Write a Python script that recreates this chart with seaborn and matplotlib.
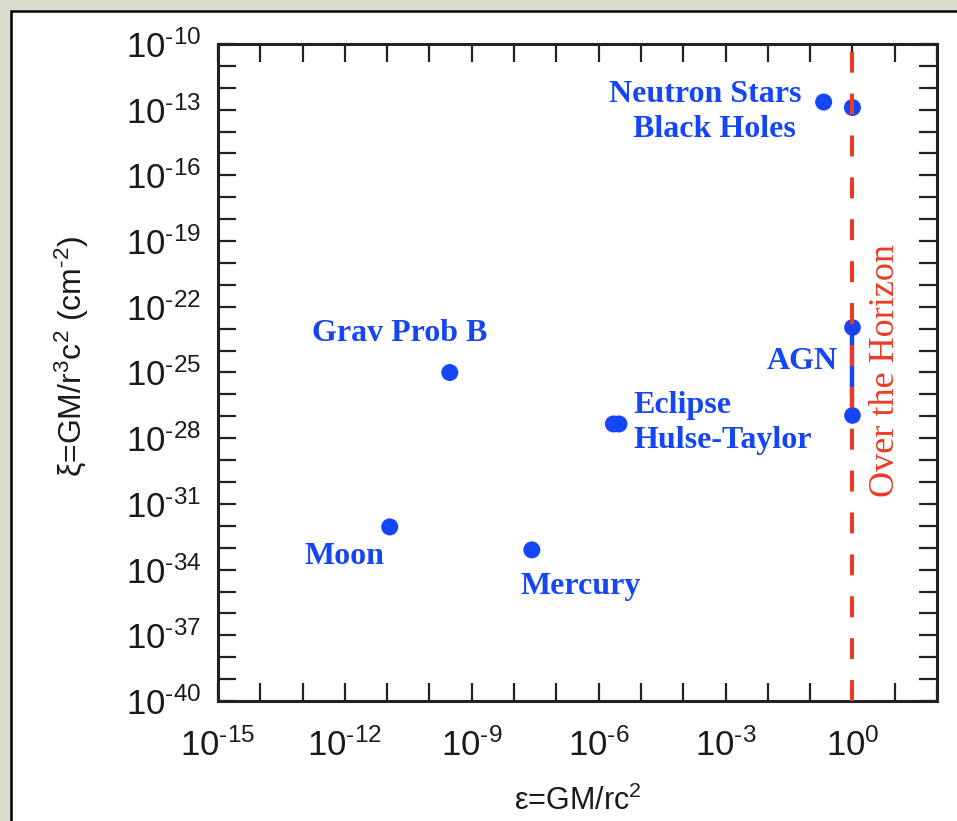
import numpy as np
import pandas as pd
import matplotlib
matplotlib.use("Agg")
import matplotlib.pyplot as plt
from matplotlib.patches import Rectangle
from matplotlib.ticker import FixedLocator, FixedFormatter, NullFormatter
import seaborn as sns

# Tests of gravity: potential (epsilon) vs curvature (xi)
names = ["Moon", "Grav Prob B", "Mercury", "Eclipse", "Hulse-Taylor",
         "Neutron Stars", "Black Holes"]
eps = [10**-10.94, 10**-9.52, 10**-7.58, 10**-5.65, 10**-5.52,
       10**-0.68, 10**0.0]
xi = [10**-32.05, 10**-25.0, 10**-33.1, 10**-27.35, 10**-27.35,
      10**-12.65, 10**-12.9]

# AGN range
agn_eps = [1.0, 1.0]
agn_xi = [10**-22.9, 10**-26.94]

# Horizon limit
horizon_eps = 1.0

x_tick_exp = [-15, -12, -9, -6, -3, 0]
y_tick_exp = [-10, -13, -16, -19, -22, -25, -28, -31, -34, -37, -40]

BLUE = "#1446f5"
RED = "#ee3a22"

sns.set_theme(style="white")
plt.rcParams["font.family"] = ["Liberation Sans", "DejaVu Sans"]
plt.rcParams["mathtext.fontset"] = "custom"
plt.rcParams["mathtext.rm"] = "Liberation Sans"
plt.rcParams["mathtext.it"] = "Liberation Sans"
plt.rcParams["mathtext.default"] = "regular"


def power_label(e):
    # exponent written with a plain hyphen
    if e < 0:
        return r"$10^{\text{-}%d}$" % (-e)
    return r"$10^{%d}$" % e


fig = plt.figure(figsize=(9.57, 8.21), dpi=100, facecolor="#dcdccf")
panel = Rectangle((11 / 957, -0.2), 1.5, 1.2 - 11 / 821,
                  transform=fig.transFigure, facecolor="white",
                  edgecolor="black", linewidth=1.8, zorder=-10)
fig.patches.append(panel)

ax = fig.add_axes([218 / 957, 1 - 701 / 821, (937 - 218) / 957, (701 - 44) / 821])
ax.set_facecolor("white")
ax.set_xscale("log")
ax.set_yscale("log")
ax.set_xlim(1e-15, 1e2)
ax.set_ylim(1e-40, 1e-10)

df = pd.DataFrame({"name": names, "eps": eps, "xi": xi})
sns.scatterplot(data=df, x="eps", y="xi", ax=ax, color=BLUE, s=150,
                edgecolor="none", zorder=3, legend=False)
sns.lineplot(x=agn_eps, y=agn_xi, ax=ax, color=BLUE, lw=3.2, zorder=3,
             marker="o", markersize=12, markeredgewidth=0, sort=False,
             estimator=None)

ax.axvline(horizon_eps, color=RED, lw=2.9, dashes=(5.2, 5.2), zorder=4)

lab = dict(color=BLUE, fontsize=23, fontweight="bold",
           family="Liberation Serif")
ax.text(10**-10.7, 10**-23.2, "Grav Prob B", ha="center", va="center", **lab)
ax.text(10**-12.0, 10**-33.4, "Moon", ha="center", va="center", **lab)
ax.text(10**-6.42, 10**-34.75, "Mercury", ha="center", va="center", **lab)
ax.text(10**-5.17, 10**-26.5, "Eclipse", ha="left", va="center", **lab)
ax.text(10**-5.17, 10**-28.1, "Hulse-Taylor", ha="left", va="center", **lab)
ax.text(10**-3.47, 10**-12.3, "Neutron Stars", ha="center", va="center", **lab)
ax.text(10**-3.26, 10**-13.9, "Black Holes", ha="center", va="center", **lab)
ax.text(10**-0.35, 10**-24.5, "AGN", ha="right", va="center", **lab)
ax.text(10**0.78, 10**-24.9, "Over the Horizon", ha="center", va="center",
        rotation=90, color=RED, fontsize=26, family="Liberation Serif")

# Ticks: every decade, labels every third decade
ax.xaxis.set_major_locator(FixedLocator([10.0**e for e in x_tick_exp]))
ax.xaxis.set_major_formatter(FixedFormatter([power_label(e) for e in x_tick_exp]))
ax.xaxis.set_minor_locator(FixedLocator([10.0**e for e in range(-15, 3)]))
ax.xaxis.set_minor_formatter(NullFormatter())
ax.yaxis.set_major_locator(FixedLocator([10.0**e for e in y_tick_exp]))
ax.yaxis.set_major_formatter(FixedFormatter([power_label(e) for e in y_tick_exp]))
ax.yaxis.set_minor_locator(FixedLocator([10.0**e for e in range(-40, -9)]))
ax.yaxis.set_minor_formatter(NullFormatter())

for which in ("major", "minor"):
    ax.tick_params(axis="both", which=which, direction="in", length=13,
                   width=1.6, color="#222222", top=True, right=True,
                   bottom=True, left=True)
ax.tick_params(axis="both", which="major", labelsize=25, labelcolor="#1a1a1a")
ax.tick_params(axis="x", which="major", pad=20)
ax.tick_params(axis="y", which="major", pad=12)

for sp in ax.spines.values():
    sp.set_visible(True)
    sp.set_color("#222222")
    sp.set_linewidth(2.2)

ax.set_xlabel("ε=GM/rc$^2$", fontsize=22, color="#1a1a1a", labelpad=16)
ax.set_ylabel("ξ=GM/r$^3$c$^2$ (cm$^{\\text{-}2}$)", fontsize=23,
              color="#1a1a1a")
ax.yaxis.set_label_coords(-0.176, 0.524)

fig.savefig("out.png", dpi=100, facecolor=fig.get_facecolor())
